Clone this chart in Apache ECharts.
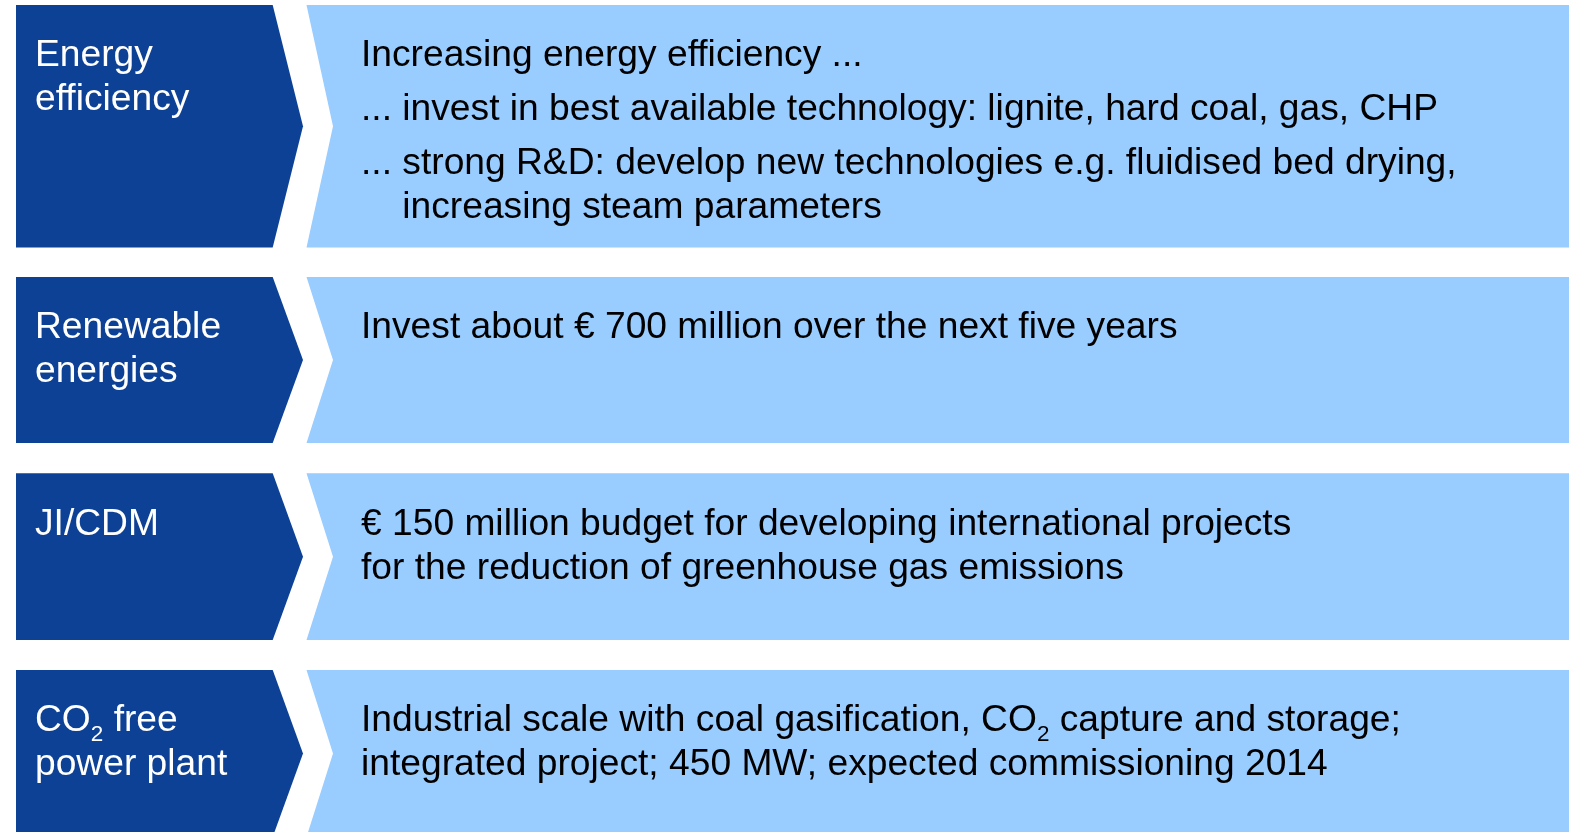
<!DOCTYPE html>
<html><head><meta charset="utf-8">
<script src="https://cdn.jsdelivr.net/npm/echarts@6/dist/echarts.min.js"></script>
<style>html,body{margin:0;padding:0;background:#ffffff}#c{width:1569px;height:832px}</style>
</head><body><div id="c"></div>
<script>
// ---- data ----
const categories = [
  ['Energy', 'efficiency'],
  ['Renewable', 'energies'],
  ['JI/CDM'],
  ['CO{2} free', 'power plant']
];
// each row: paragraphs; each paragraph: lines
const descriptions = [
  [['Increasing energy efficiency ...'],
   ['... invest in best available technology: lignite, hard coal, gas, CHP'],
   ['... strong R&D: develop new technologies e.g. fluidised bed drying,', 'increasing steam parameters']],
  [['Invest about \u20ac 700 million over the next five years']],
  [['\u20ac 150 million budget for developing international projects', 'for the reduction of greenhouse gas emissions']],
  [['Industrial scale with coal gasification, CO{2} capture and storage;', 'integrated project; 450 MW; expected commissioning 2014']]
];
const rowTops = [5, 277, 473.3, 670];
const rowBottoms = [247.5, 443, 640, 837];

// ---- style / layout ----
const DARK = '#0D4195', LIGHT = '#99CCFF';
const FONT_FAMILY = '"Liberation Sans", Arial, sans-serif';
const FS = 37.2, SUB_FS = 22.5, SUB_DY = 9;
const LINE_GAP = 44, PARA_GAP = 54, FIRST_BASE = 63.5;
const X = {darkL: 16, darkR: 272.7, darkTip: 303, lightL: 306.5, lightNotch: 333, right: 1569, labelX: 35, textX: 361};

const mctx = document.createElement('canvas').getContext('2d');
function measure(t, size) { mctx.font = size + 'px ' + FONT_FAMILY; return mctx.measureText(t).width; }

function textLine(str, x, baseline, color) {
  const parts = str.split(/(\{[^}]*\})/).filter(s => s.length);
  const els = [];
  let cx = x;
  parts.forEach(p => {
    const sub = p[0] === '{';
    const t = sub ? p.slice(1, -1) : p;
    const size = sub ? SUB_FS : FS;
    const by = baseline + (sub ? SUB_DY : 0);
    els.push({type: 'text', style: {text: t, x: cx, y: by - 0.33 * size, fill: color,
      font: size + 'px ' + FONT_FAMILY, align: 'left', verticalAlign: 'middle'}});
    cx += measure(t, size);
  });
  return els;
}

const seriesData = categories.map((c, i) => [i, rowTops[i], rowBottoms[i]]);

function renderItem(params, api) {
  const i = api.value(0);
  const top = api.value(1), bot = api.value(2), mid = (top + bot) / 2;
  const P = (x, y) => api.coord([x, y]);
  const children = [];
  children.push({type: 'polygon', shape: {points: [P(X.darkL, top), P(X.darkR, top), P(X.darkTip, mid), P(X.darkR, bot), P(X.darkL, bot)]}, style: {fill: DARK}});
  children.push({type: 'polygon', shape: {points: [P(X.lightL, top), P(X.right, top), P(X.right, bot), P(X.lightL, bot), P(X.lightNotch, mid)]}, style: {fill: LIGHT}});
  // left labels
  categories[i].forEach((ln, k) => {
    const p = P(X.labelX, top + FIRST_BASE + k * LINE_GAP);
    children.push(...textLine(ln, p[0], p[1], '#ffffff'));
  });
  // right descriptions
  let base = top + FIRST_BASE;
  descriptions[i].forEach((para, pi) => {
    if (pi > 0) base += PARA_GAP;
    const indent = para[0].startsWith('... ') ? measure('... ', FS) : 0;
    para.forEach((ln, li) => {
      if (li > 0) base += LINE_GAP;
      const p = P(X.textX, base);
      children.push(...textLine(ln, p[0] + (li > 0 ? indent : 0), p[1], '#000000'));
    });
  });
  return {type: 'group', children};
}

const chart = echarts.init(document.getElementById('c'), null, {renderer: 'canvas'});
chart.setOption({
  animation: false,
  backgroundColor: '#ffffff',
  grid: {left: 0, right: 0, top: 0, bottom: 0},
  xAxis: {type: 'value', min: 0, max: 1569, show: false},
  yAxis: {type: 'value', min: 0, max: 832, inverse: true, show: false},
  series: [{type: 'custom', renderItem, data: seriesData, clip: false, silent: true}]
});
</script></body></html>
